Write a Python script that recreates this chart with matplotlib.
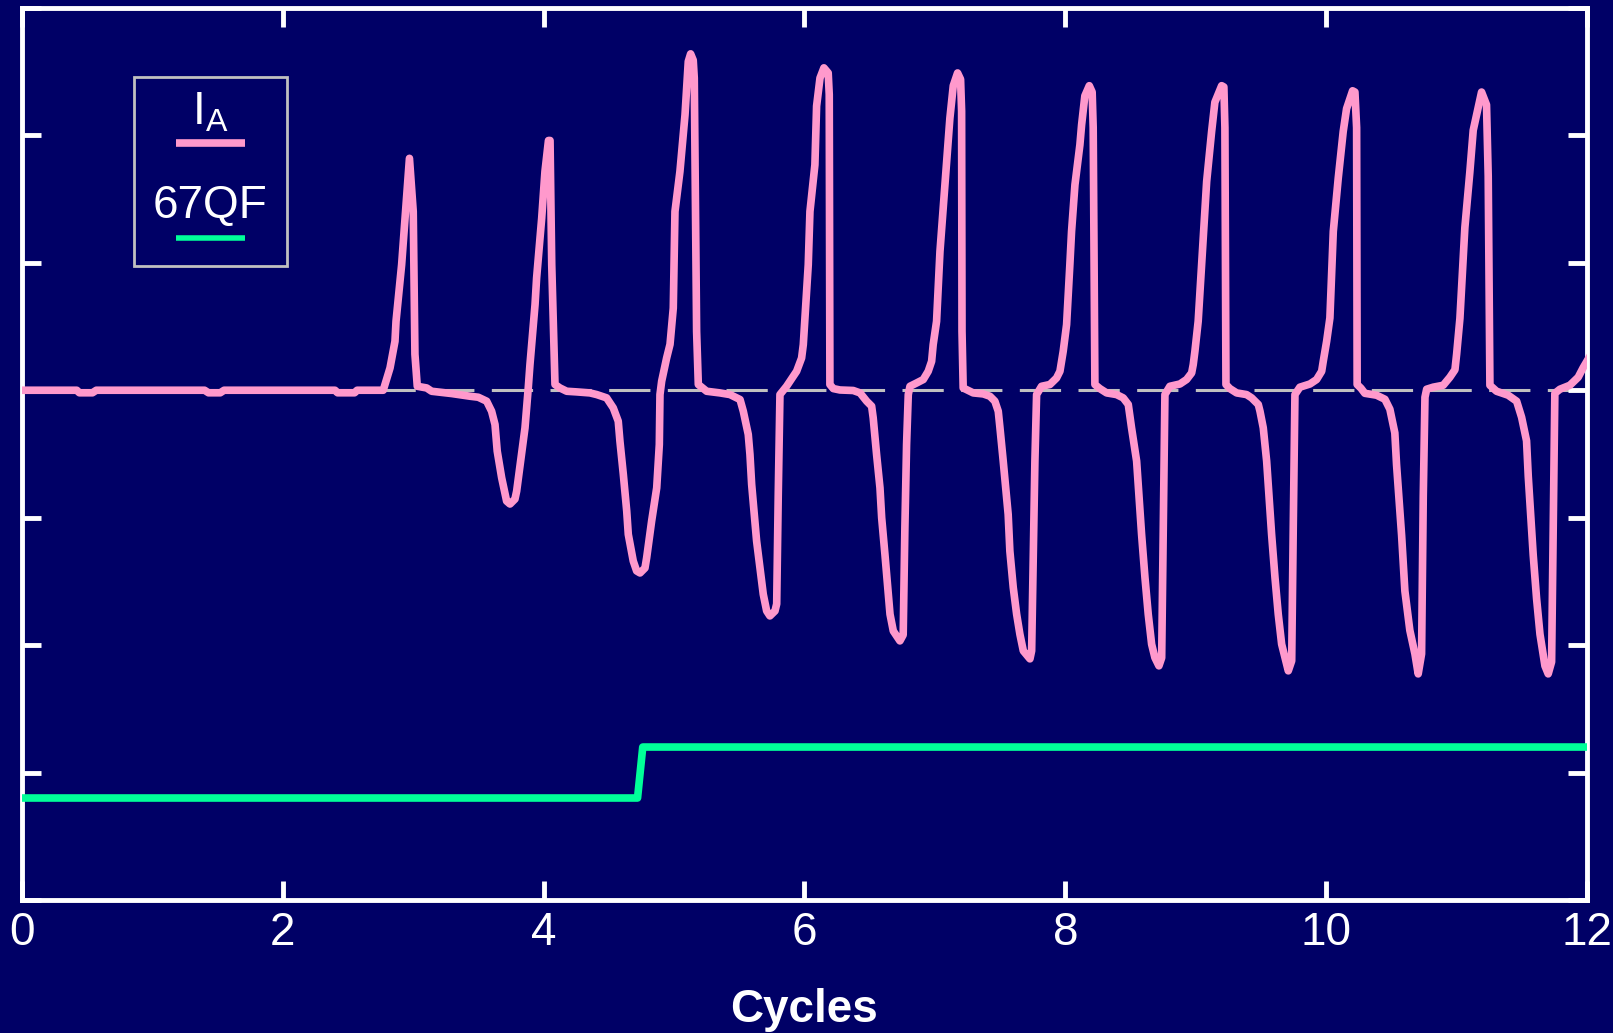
import matplotlib
matplotlib.use("Agg")
import matplotlib.pyplot as plt
from matplotlib.patches import Rectangle
from matplotlib.lines import Line2D

plt.rcParams['font.family'] = ['Liberation Sans', 'DejaVu Sans']
plt.rcParams['mathtext.default'] = 'regular'

BG = '#000066'
PINK = '#FF99CC'
GREEN = '#00FF99'
GRAY = '#C0C0C0'

# phase A current (cycles, per-unit of tick spacing)
t_ia = [0.00, 0.42, 0.44, 0.54, 0.57, 1.40, 1.43, 1.52, 1.55, 2.40, 2.42, 2.55, 2.57, 2.77,
        2.822, 2.860, 2.868, 2.911, 2.937, 2.971, 3.000, 3.013, 3.031,
        3.103, 3.141, 3.295, 3.435, 3.499, 3.563, 3.601, 3.627, 3.644, 3.678, 3.716, 3.742,
        3.780, 3.793, 3.844, 3.857, 3.882,
        3.895, 3.934, 3.946, 3.985, 4.010, 4.037, 4.049, 4.062, 4.087,
        4.125, 4.177, 4.253, 4.355, 4.407, 4.483, 4.534, 4.572, 4.585, 4.611, 4.637, 4.649,
        4.687, 4.713, 4.739, 4.777, 4.790, 4.828, 4.867, 4.887, 4.892,
        4.905, 4.943, 4.969, 4.994, 5.007, 5.045, 5.084, 5.109, 5.127, 5.147, 5.155, 5.173, 5.186,
        5.250, 5.352, 5.429, 5.506, 5.531, 5.569, 5.582, 5.595, 5.633, 5.659, 5.684, 5.710,
        5.735, 5.774, 5.787, 5.799, 5.812,
        5.863, 5.889, 5.940, 5.978, 5.991, 6.029, 6.042, 6.080, 6.093, 6.119, 6.149, 6.182,
        6.190, 6.195,
        6.221, 6.272, 6.374, 6.426, 6.477, 6.515, 6.527, 6.553, 6.579, 6.592, 6.617, 6.643,
        6.656, 6.681, 6.732, 6.757, 6.770, 6.783, 6.796,
        6.809, 6.860, 6.911, 6.949, 6.975, 6.987, 7.013, 7.039, 7.052, 7.077, 7.102, 7.115,
        7.141, 7.174, 7.197, 7.205, 7.208, 7.217,
        7.243, 7.294, 7.371, 7.422, 7.460, 7.486, 7.499, 7.524, 7.562, 7.575, 7.601, 7.627,
        7.652, 7.678, 7.729, 7.742, 7.754, 7.767, 7.780,
        7.818, 7.882, 7.933, 7.959, 7.971, 7.984, 8.010, 8.035, 8.048, 8.074, 8.112, 8.125,
        8.150, 8.184, 8.206, 8.214, 8.227,
        8.265, 8.317, 8.393, 8.444, 8.483, 8.508, 8.547, 8.585, 8.611, 8.636, 8.662, 8.687,
        8.718, 8.739, 8.751, 8.764,
        8.802, 8.879, 8.930, 8.969, 8.981, 8.994, 9.019, 9.045, 9.058, 9.084, 9.122, 9.147,
        9.199, 9.216, 9.224, 9.232,
        9.262, 9.314, 9.390, 9.429, 9.480, 9.493, 9.518, 9.544, 9.582, 9.608, 9.633, 9.659,
        9.710, 9.736, 9.748, 9.761,
        9.799, 9.876, 9.927, 9.966, 9.978, 10.004, 10.029, 10.055, 10.093, 10.131, 10.157,
        10.203, 10.221, 10.234, 10.238,
        10.267, 10.297, 10.387, 10.451, 10.489, 10.527, 10.540, 10.579, 10.604, 10.642, 10.681,
        10.706, 10.732, 10.745, 10.758,
        10.771, 10.821, 10.898, 10.949, 10.988, 11.001, 11.026, 11.051, 11.064, 11.102, 11.128,
        11.192, 11.230, 11.243, 11.256,
        11.307, 11.396, 11.461, 11.499, 11.537, 11.550, 11.588, 11.614, 11.640, 11.678,
        11.703, 11.729, 11.741, 11.754,
        11.793, 11.869, 11.933, 11.971, 12.022]
i_a = [0.0, 0.0, -0.02, -0.02, 0.0, 0.0, -0.02, -0.02, 0.0, 0.0, -0.02, -0.02, 0.0, 0.0,
       0.175, 0.384, 0.541, 0.985, 1.350, 1.82, 1.403, 0.282, 0.031,
       0.018, -0.008, -0.026, -0.047, -0.055, -0.086, -0.165, -0.269, -0.478, -0.687, -0.870, -0.893,
       -0.854, -0.792, -0.400, -0.295, 0.018,
       0.201, 0.672, 0.880, 1.350, 1.716, 1.96, 1.96, 0.985, 0.045,
       0.018, -0.008, -0.013, -0.021, -0.034, -0.060, -0.139, -0.243, -0.400, -0.661, -0.948, -1.131,
       -1.340, -1.418, -1.434, -1.395, -1.314, -1.027, -0.766, -0.426, -0.034,
       0.071, 0.253, 0.360, 0.645, 1.403, 1.716, 2.161, 2.58, 2.64, 2.59, 2.45, 0.462, 0.045,
       -0.008, -0.021, -0.034, -0.073, -0.165, -0.347, -0.504, -0.739, -1.183, -1.393, -1.601, -1.732,
       -1.771, -1.732, -1.677, -0.817, -0.034,
       0.031, 0.071, 0.149, 0.253, 0.358, 0.985, 1.403, 1.769, 2.23, 2.45, 2.53, 2.49,
       2.32, 0.045,
       0.013, 0.002, -0.002, -0.021, -0.086, -0.125, -0.217, -0.504, -0.766, -1.001, -1.288, -1.601,
       -1.758, -1.889, -1.967, -1.920, -1.079, -0.426, -0.034,
       0.031, 0.057, 0.084, 0.149, 0.227, 0.358, 0.541, 1.089, 1.272, 1.612, 1.951, 2.134,
       2.39, 2.49, 2.44, 2.19, 0.462, 0.018,
       0.005, -0.021, -0.029, -0.047, -0.086, -0.165, -0.295, -0.556, -0.974, -1.262, -1.549, -1.758,
       -1.915, -2.045, -2.108, -2.045, -1.340, -0.556, -0.034,
       0.031, 0.045, 0.096, 0.149, 0.227, 0.306, 0.515, 0.985, 1.246, 1.612, 1.926, 2.082,
       2.31, 2.39, 2.34, 2.06, 0.045,
       0.013, -0.021, -0.034, -0.060, -0.112, -0.295, -0.556, -1.131, -1.471, -1.758, -1.993, -2.098,
       -2.163, -2.100, -1.079, -0.034,
       0.031, 0.049, 0.084, 0.136, 0.201, 0.306, 0.541, 0.985, 1.220, 1.638, 2.030, 2.26,
       2.39, 2.38, 2.06, 0.045,
       0.013, -0.021, -0.034, -0.060, -0.112, -0.165, -0.295, -0.556, -1.131, -1.471, -1.758, -1.993,
       -2.202, -2.124, -1.079, -0.034,
       0.024, 0.049, 0.084, 0.149, 0.227, 0.384, 0.567, 1.246, 1.664, 2.030, 2.21,
       2.35, 2.34, 2.06, 0.045,
       0.016, -0.024, -0.039, -0.071, -0.149, -0.335, -0.582, -1.140, -1.575, -1.884, -2.069,
       -2.226, -2.069, -0.831, -0.055,
       0.008, 0.024, 0.039, 0.102, 0.161, 0.285, 0.564, 1.029, 1.277, 1.711, 2.04,
       2.34, 2.24, 1.68, 0.039,
       -0.008, -0.039, -0.086, -0.212, -0.397, -0.674, -1.293, -1.636, -1.915, -2.163,
       -2.226, -2.132, -1.140, -0.024,
       0.008, 0.039, 0.102, 0.177, 0.266]

# 67QF element (digital, drawn offset below the current trace)
t_qf = [0.0, 4.72, 4.76, 12.0]
qf = [-3.2, -3.2, -2.8, -2.8]

x_ticks = [0, 2, 4, 6, 8, 10, 12]
y_ticks = [-4, -3, -2, -1, 0, 1, 2, 3]

fig = plt.figure(figsize=(16.13, 10.33), dpi=100, facecolor=BG)
ax = fig.add_axes([0.01364, 0.1288, 0.9702, 0.8635], facecolor=BG)

ax.axhline(0, color=GRAY, lw=2.2, dashes=(13.5, 5.7), zorder=1)
ax.plot(t_ia, i_a, color=PINK, lw=5.5, solid_joinstyle='round', zorder=3)
ax.plot(t_qf, qf, color=GREEN, lw=5.5, zorder=3)

ax.set_xlim(0, 12)
ax.set_ylim(-4, 3)
ax.set_xticks(x_ticks)
ax.set_yticks(y_ticks)
ax.set_yticklabels([])
ax.tick_params(direction='in', length=14, width=3.5, color='white',
               top=True, right=True, labelsize=33, labelcolor='white', pad=8)
for sp in ax.spines.values():
    sp.set_color('white')
    sp.set_linewidth(3.5)
ax.set_xlabel('Cycles', fontsize=33, fontweight='bold', color='white', labelpad=24)

# legend: label above its line sample, inside a gray box
ax.add_patch(Rectangle((0.0716, 0.7108), 0.0978, 0.2119, transform=ax.transAxes,
                       fill=False, edgecolor=GRAY, lw=2, zorder=5))
ax.text(0.1201, 0.8688, r'$\mathregular{I_A}$', transform=ax.transAxes, fontsize=33,
        color='white', ha='center', va='baseline', zorder=6)
ax.add_line(Line2D([0.0984, 0.1425], [0.8487, 0.8487], transform=ax.transAxes,
                   color=PINK, lw=5.5, solid_capstyle='butt', zorder=6))
ax.text(0.1201, 0.7646, '67QF', transform=ax.transAxes, fontsize=33,
        color='white', ha='center', va='baseline', zorder=6)
ax.add_line(Line2D([0.0984, 0.1425], [0.7422, 0.7422], transform=ax.transAxes,
                   color=GREEN, lw=4, solid_capstyle='butt', zorder=6))

fig.savefig('out.png', dpi=100, facecolor=BG)
